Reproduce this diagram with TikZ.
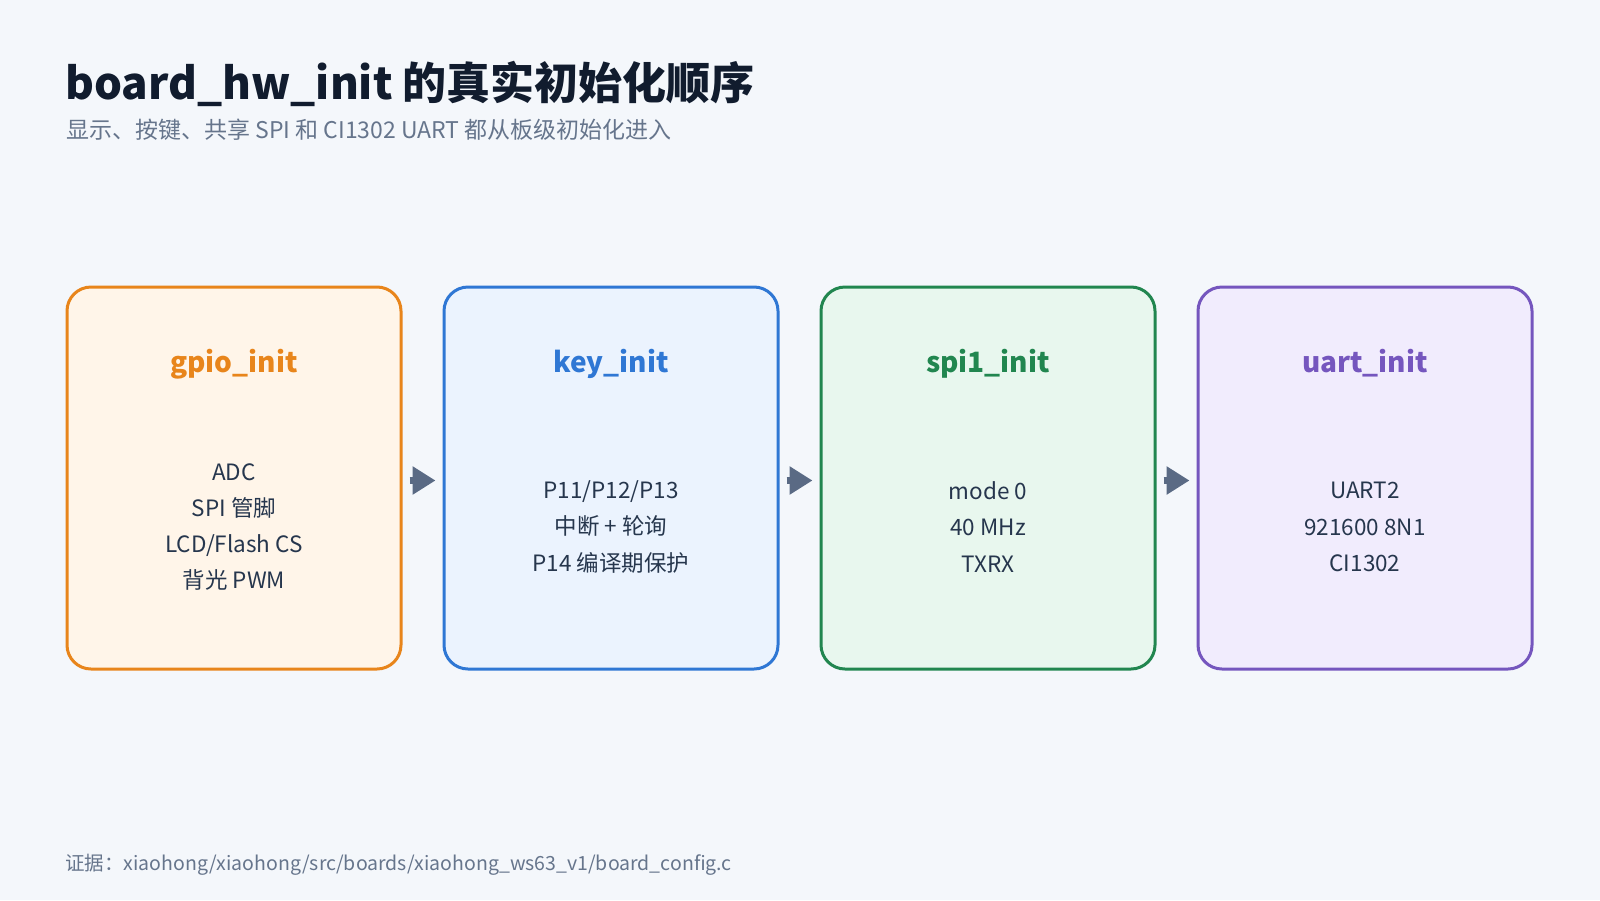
\documentclass[tikz,border=0pt]{standalone}
\usepackage{fontspec}
\setmainfont{Noto Sans CJK SC}
\usetikzlibrary{arrows.meta}
\definecolor{bgc}{HTML}{F4F7FB}
\definecolor{titlec}{HTML}{111C2E}
\definecolor{subc}{HTML}{66758C}
\definecolor{bodyc}{HTML}{26364D}
\definecolor{arrowc}{HTML}{5A6A84}
\definecolor{orangec}{HTML}{E8851B}
\definecolor{orangef}{HTML}{FFF5E9}
\definecolor{bluec}{HTML}{2F77D4}
\definecolor{bluef}{HTML}{EBF3FE}
\definecolor{greenc}{HTML}{21864F}
\definecolor{greenf}{HTML}{E8F7EE}
\definecolor{purplec}{HTML}{7556BE}
\definecolor{purplef}{HTML}{F1ECFD}

\begin{document}
\begin{tikzpicture}[x=1pt,y=-1pt,
        initbox/.style={draw,line width=3pt,rounded corners=24pt,
          minimum width=334pt,minimum height=382pt,inner sep=0pt},
        boxtitle/.style={anchor=base,font=\fontsize{28}{32}\selectfont\bfseries},
        boxbody/.style={align=center,text=bodyc,font=\fontsize{22.5}{36.3}\selectfont},
        >={Triangle[length=23pt,width=27pt]}]
       \fill[bgc](0,0)rectangle(1600,900);
       \useasboundingbox(0,0)rectangle(1600,900);
       % heading
       \node[anchor=base west,inner sep=0pt,text=titlec,font=\fontsize{44}{52}\selectfont\bfseries]
         (title) at (65,99) {board\_hw\_init 的真实初始化顺序};
       \node[anchor=base west,inner sep=0pt,text=subc,font=\fontsize{23}{27}\selectfont]
         (subtitle) at (66,138) {显示、按键、共享 SPI 和 CI1302 UART 都从板级初始化进入};
       % init steps
       \node[initbox,draw=orangec,fill=orangef](gpio) at (234,478){};
       \node[initbox,draw=bluec,fill=bluef](key) at (611,478){};
       \node[initbox,draw=greenc,fill=greenf](spi) at (988,478){};
       \node[initbox,draw=purplec,fill=purplef](uart) at (1365,478){};
       \node[boxtitle,text=orangec](gpiot) at (234,372){gpio\_init};
       \node[boxtitle,text=bluec](keyt) at (611,372){key\_init};
       \node[boxtitle,text=greenc](spit) at (988,372){spi1\_init};
       \node[boxtitle,text=purplec](uartt) at (1365,372){uart\_init};
       \node[boxbody](gpiob) at (234,527){ADC\\SPI 管脚\\LCD/Flash CS\\背光 PWM};
       \node[boxbody](keyb) at (611,527){P11/P12/P13\\中断 + 轮询\\P14 编译期保护};
       \node[boxbody](spib) at (988,527){mode 0\\40 MHz\\TXRX};
       \node[boxbody](uartb) at (1365,527){UART2\\921600 8N1\\CI1302};
       \foreach \a/\b in {gpio/key,key/spi,spi/uart}
         \draw[->,arrowc,line width=7pt,shorten <=7pt,shorten >=7pt]
           ([yshift=-2.5pt]\a.east)--([yshift=-2.5pt]\b.west);
       % source
       \node[anchor=base west,inner sep=0pt,text=subc,font=\fontsize{19.5}{23}\selectfont]
         (source) at (65,870) {证据：xiaohong/xiaohong/src/boards/xiaohong\_ws63\_v1/board\_config.c};
    \end{tikzpicture}
\end{document}
